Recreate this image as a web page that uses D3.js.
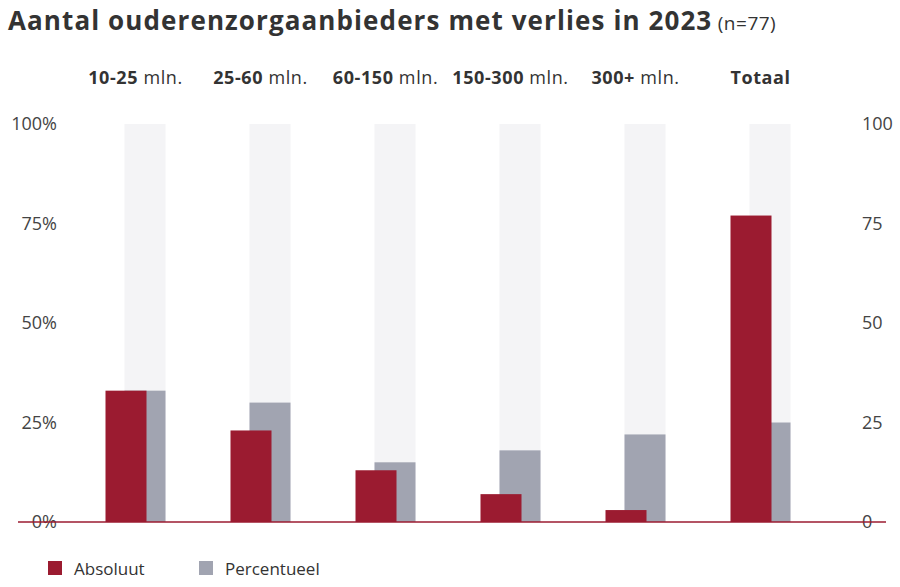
<!DOCTYPE html>
<html><head><meta charset="utf-8">
<script src="https://cdn.jsdelivr.net/npm/d3@7"></script>
<style>body{margin:0;background:#fff;font-family:"Open Sans",sans-serif;}</style>
</head><body><div id="container"></div>
<script>
/* DATA */
const categories = ["10-25", "25-60", "60-150", "150-300", "300+", "Totaal"];
const units = [" mln.", " mln.", " mln.", " mln.", " mln.", ""];
const absoluut = [33, 23, 13, 7, 3, 77];
const percentueel = [33, 30, 15, 18, 22, 25];
const leftTicks = ["0%", "25%", "50%", "75%", "100%"];
const tickValues = [0, 25, 50, 75, 100];

const width = 900, height = 587;
const red = "#9b1b30", grey = "#a1a4b1", pale = "#f4f4f6";

const svg = d3.select("#container").append("svg")
  .attr("width", width).attr("height", height);

/* SCALES */
const x = d3.scaleBand().domain(categories).range([73, 823]).padding(0);
const y = d3.scaleLinear().domain([0, 100]).range([522, 124]);
const barW = 41, shift = 19;
const cx = d => x(d) + x.bandwidth() / 2;

/* TITLE */
const title = svg.append("text").attr("x", 8).attr("y", 30)
  .attr("font-size", 26).attr("font-weight", 700).attr("fill", "#333")
  .attr("letter-spacing", 1.1);
title.append("tspan").text("Aantal ouderenzorgaanbieders met verlies in 2023");
title.append("tspan").attr("font-size", 19).attr("font-weight", 400).attr("letter-spacing", 0.5).text(" (n=77)");

/* CATEGORY LABELS */
svg.selectAll(".cat").data(categories).enter().append("text")
  .attr("x", d => cx(d)).attr("y", 84).attr("text-anchor", "middle")
  .attr("font-size", 18).attr("letter-spacing", 0.6).attr("fill", "#333")
  .each(function(d, i) {
    d3.select(this).append("tspan").attr("font-weight", 700).text(d);
    d3.select(this).append("tspan").text(units[i]);
  });

/* AXES */
const leftAxis = svg.append("g").attr("transform", "translate(57,0)")
  .call(d3.axisLeft(y).tickValues(tickValues).tickFormat((d, i) => leftTicks[i]).tickSize(0).tickPadding(0));
const rightAxis = svg.append("g").attr("transform", "translate(862,0)")
  .call(d3.axisRight(y).tickValues(tickValues).tickSize(0).tickPadding(0));
[leftAxis, rightAxis].forEach(a => {
  a.select(".domain").remove();
  a.selectAll("text").attr("font-size", 18).attr("fill", "#444")
    .attr("font-family", "Open Sans, sans-serif");
});

/* BARS */
svg.selectAll(".bg").data(categories).enter().append("rect")
  .attr("x", d => cx(d) - barW / 2 + shift / 2).attr("width", barW)
  .attr("y", y(100)).attr("height", y(0) - y(100)).attr("fill", pale);
svg.selectAll(".pct").data(percentueel).enter().append("rect")
  .attr("x", (d, i) => cx(categories[i]) - barW / 2 + shift / 2).attr("width", barW)
  .attr("y", d => y(d)).attr("height", d => y(0) - y(d)).attr("fill", grey);
svg.selectAll(".abs").data(absoluut).enter().append("rect")
  .attr("x", (d, i) => cx(categories[i]) - barW / 2 - shift / 2).attr("width", barW)
  .attr("y", d => y(d)).attr("height", d => y(0) - y(d)).attr("fill", red);

svg.append("line").attr("x1", 18).attr("x2", 886).attr("y1", y(0)).attr("y2", y(0))
  .attr("stroke", red).attr("stroke-width", 1.5);

/* LEGEND */
const legend = [{label: "Absoluut", color: red, x: 48}, {label: "Percentueel", color: grey, x: 199}];
legend.forEach(l => {
  svg.append("rect").attr("x", l.x).attr("y", 561).attr("width", 14).attr("height", 14).attr("fill", l.color);
  svg.append("text").attr("x", l.x + 26).attr("y", 575).attr("font-size", 17).attr("fill", "#333").text(l.label);
});
</script></body></html>
